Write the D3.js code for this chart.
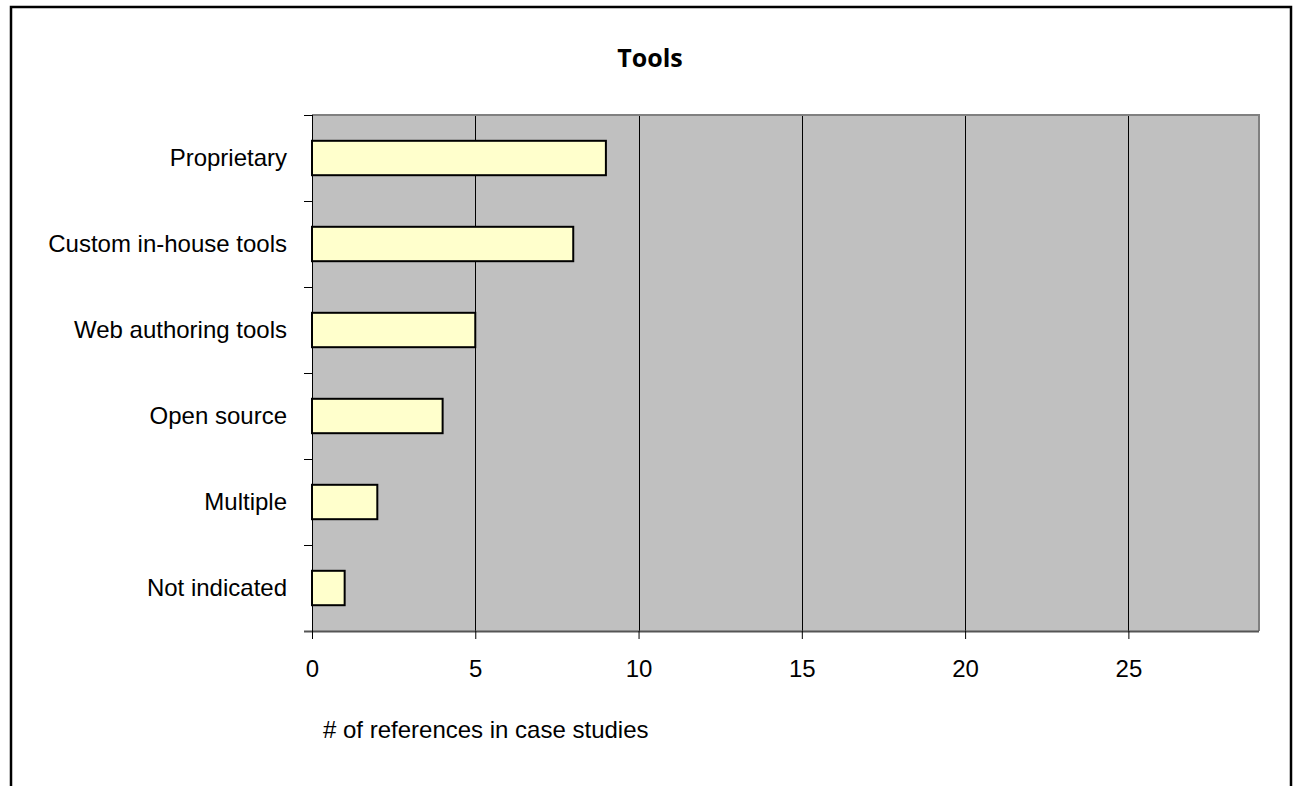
<!DOCTYPE html>
<html>
<head>
<meta charset="utf-8">
<script src="https://cdn.jsdelivr.net/npm/d3@7"></script>
<style>
  html, body { margin: 0; padding: 0; background: #fff; }
  svg { display: block; }
</style>
</head>
<body>
<svg id="chart" width="1299" height="786"></svg>
<script>
// Tools referenced in the case studies
const categories = ["Proprietary", "Custom in-house tools", "Web authoring tools", "Open source", "Multiple", "Not indicated"];
const counts = [9, 8, 5, 4, 2, 1];
const xTicks = [0, 5, 10, 15, 20, 25];
const xMax = 29;
const chartTitle = "Tools";
const xAxisTitle = "# of references in case studies";

const svg = d3.select("#chart");
const plot = { left: 312, top: 115, right: 1259, bottom: 631 };
const labelFont = "'Liberation Sans', Arial, sans-serif";
const labelSize = 24;

// outer frame
svg.append("rect")
  .attr("x", 11).attr("y", 7)
  .attr("width", 1280).attr("height", 800)
  .attr("fill", "#fff").attr("stroke", "#000").attr("stroke-width", 2.5);

const x = d3.scaleLinear().domain([0, xMax]).range([plot.left, plot.right]);
const y = d3.scaleBand().domain(categories).range([plot.top, plot.bottom]).paddingInner(0.6).paddingOuter(0.3);
const yBand = d3.scaleBand().domain(categories).range([plot.top, plot.bottom]);

// plot background
svg.append("rect")
  .attr("x", plot.left).attr("y", plot.top)
  .attr("width", plot.right - plot.left).attr("height", plot.bottom - plot.top)
  .attr("fill", "#c0c0c0");

// vertical gridlines
svg.append("g").selectAll("line")
  .data(xTicks.filter(d => d > 0))
  .join("line")
  .attr("x1", d => Math.round(x(d)) + 0.5).attr("x2", d => Math.round(x(d)) + 0.5)
  .attr("y1", plot.top).attr("y2", plot.bottom)
  .attr("stroke", "#000").attr("stroke-width", 1);

// top and right border of the plot area
svg.append("path")
  .attr("d", `M${plot.left},${plot.top} H${plot.right} V${plot.bottom}`)
  .attr("fill", "none").attr("stroke", "#808080").attr("stroke-width", 2);

// bars
svg.append("g").selectAll("rect")
  .data(categories)
  .join("rect")
  .attr("x", x(0))
  .attr("y", d => y(d))
  .attr("width", (d, i) => x(counts[i]) - x(0))
  .attr("height", y.bandwidth())
  .attr("fill", "#ffffcc")
  .attr("stroke", "#000")
  .attr("stroke-width", 2);

// x axis
const xAxis = d3.axisBottom(x).tickValues(xTicks).tickSize(8).tickPadding(21).tickSizeOuter(0);
const gx = svg.append("g").attr("transform", `translate(0,${plot.bottom})`).call(xAxis);
gx.select(".domain").attr("stroke", "#555").attr("stroke-width", 2)
  .attr("d", `M${plot.left - 8},0.5H${plot.right}`);
gx.selectAll(".tick line").attr("stroke", "#000");
gx.selectAll(".tick text").attr("font-family", labelFont).attr("font-size", labelSize).attr("fill", "#000");

// y axis with ticks on category boundaries
const gy = svg.append("g");
gy.append("line")
  .attr("x1", plot.left + 0.5).attr("x2", plot.left + 0.5)
  .attr("y1", plot.top).attr("y2", plot.bottom)
  .attr("stroke", "#000").attr("stroke-width", 1);
gy.selectAll("line.tick")
  .data(categories)
  .join("line").attr("class", "tick")
  .attr("x1", plot.left - 8).attr("x2", plot.left)
  .attr("y1", d => Math.round(yBand(d)) + 0.5).attr("y2", d => Math.round(yBand(d)) + 0.5)
  .attr("stroke", "#000");
gy.selectAll("text")
  .data(categories)
  .join("text")
  .attr("x", plot.left - 25)
  .attr("y", d => yBand(d) + yBand.bandwidth() / 2)
  .attr("dy", "0.35em")
  .attr("text-anchor", "end")
  .attr("font-family", labelFont).attr("font-size", labelSize)
  .text(d => d);

// titles
svg.append("text")
  .attr("x", 650).attr("y", 67)
  .attr("text-anchor", "middle")
  .attr("font-family", "'Open Sans', Lato, sans-serif")
  .attr("font-weight", "bold").attr("font-size", 25)
  .text(chartTitle);

svg.append("text")
  .attr("x", 323).attr("y", 738)
  .attr("font-family", labelFont).attr("font-size", labelSize)
  .text(xAxisTitle);
</script>
</body>
</html>
